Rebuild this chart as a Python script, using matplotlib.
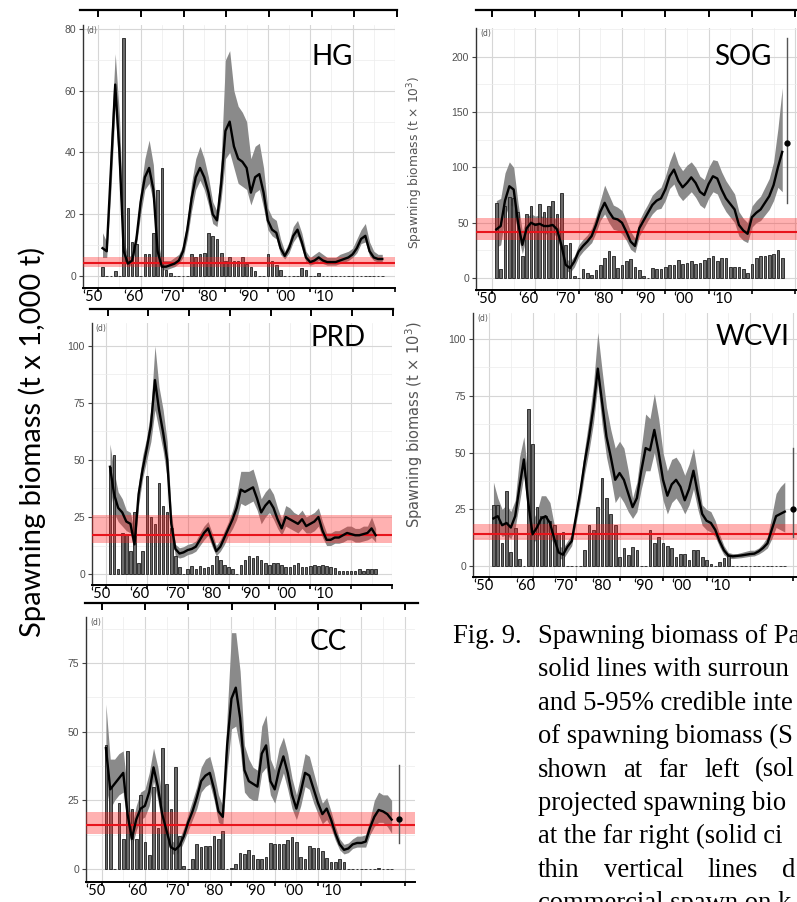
import numpy as np
import matplotlib
matplotlib.use("Agg")
import matplotlib.pyplot as plt

W, H = 797, 902

# spawning biomass (t x 1,000), 5-95% band and catch bars
hg_years = np.arange(1951, 2018)
hg_med = [9, 8, 35, 62, 40, 8, 4, 5, 12, 24,
          32, 35, 28, 8, 3, 3, 3.5, 4, 5, 8,
          15, 25, 32, 35, 32, 27, 20, 18, 30, 47,
          50, 42, 38, 37, 35, 27, 32, 33, 27, 18,
          15, 14, 9, 6.5, 9, 13, 15, 11, 6, 4.5,
          5, 6, 5, 4.5, 4.5, 4.5, 5, 5.5, 6, 7,
          9, 12, 13, 8, 6, 5.5, 5.5]
hg_hi = [14, 11, 45, 72, 52, 12, 6, 7, 15, 28,
         38, 44, 36, 12, 5, 5, 5, 6, 7, 10,
         18, 30, 38, 42, 38, 32, 24, 21, 38, 70,
         73, 60, 55, 53, 50, 38, 42, 43, 35, 22,
         19, 18, 12, 8, 11, 16, 18, 14, 8, 6,
         7, 8, 7, 6, 6, 6, 7, 7.5, 8, 9,
         12, 15, 17, 11, 8, 7, 7]
hg_lo = [6, 6, 28, 55, 30, 5, 3, 4, 10, 20,
         28, 30, 24, 6, 2, 2, 2.5, 3, 4, 6,
         12, 21, 28, 31, 28, 23, 17, 16, 25, 38,
         40, 35, 30, 29, 28, 23, 27, 28, 22, 15,
         13, 12, 7, 5.5, 7.5, 11, 13, 9, 4.5, 3.5,
         4, 5, 4, 3.5, 3.5, 3.5, 4, 4.5, 5, 6,
         7.5, 10.5, 11, 6.5, 5, 4.5, 4.5]
hg_catch = [3, 0, 0, 1.5, 0, 77, 22, 11, 10.5, 0,
            7, 7, 14, 28, 35, 2, 1, 0, 0, 0,
            0, 7, 6, 7, 7.5, 14, 13, 12, 7.5, 5,
            6, 5, 5, 6, 4, 3, 1.5, 0, 0, 7,
            5, 3.5, 2, 0, 0, 0, 0, 2.5, 2, 0,
            0, 1, 0, 0, 0, 0, 0, 0, 0, 0,
            0, 0, 0, 0, 0, 0, 0]

sog_years = np.arange(1951, 2018)
sog_med = [44, 47, 70, 83, 80, 50, 30, 45, 50, 48,
           49, 47, 47, 48, 44, 30, 12, 9, 15, 24,
           29, 33, 38, 48, 60, 68, 60, 54, 53, 50,
           42, 33, 29, 45, 52, 59, 66, 70, 72, 80,
           92, 98, 88, 82, 86, 91, 86, 78, 75, 85,
           92, 90, 80, 72, 67, 62, 48, 43, 40, 55,
           59, 62, 68, 74, 84, 100, 114]
sog_hi = [70, 72, 95, 105, 100, 68, 42, 55, 58, 56,
          57, 55, 55, 56, 52, 38, 18, 15, 20, 30,
          35, 39, 45, 56, 70, 84, 75, 66, 64, 61,
          52, 42, 36, 52, 60, 67, 75, 79, 82, 92,
          105, 115, 103, 97, 102, 105, 100, 92, 89, 100,
          107, 106, 96, 88, 82, 76, 60, 54, 50, 65,
          70, 74, 82, 90, 105, 135, 172]
sog_lo = [28, 30, 55, 67, 64, 38, 22, 38, 43, 41,
          42, 40, 40, 41, 37, 23, 7, 5, 10, 19,
          24, 28, 32, 41, 52, 58, 50, 44, 43, 40,
          34, 26, 23, 38, 45, 52, 58, 62, 63, 70,
          81, 85, 75, 70, 74, 78, 73, 66, 63, 72,
          78, 76, 67, 60, 55, 50, 38, 34, 32, 46,
          50, 52, 57, 62, 70, 82, 78]
sog_catch = [68, 8, 65, 73, 72, 60, 20, 58, 65, 50,
             67, 60, 65, 70, 58, 77, 30, 32, 2, 0,
             8, 5, 3, 7, 12, 18, 24, 20, 9, 12,
             15, 17, 10, 7, 2, 0, 9, 8, 8, 10,
             12, 12, 16, 13, 14, 15, 13, 14, 16, 18,
             20, 15, 18, 18, 10, 10, 10, 8, 5, 13,
             18, 20, 20, 21, 22, 25, 18]

prd_years = np.arange(1951, 2017)
prd_med = [47, 35, 29, 27, 23, 22, 13, 35, 46, 55,
           65, 85, 72, 62, 50, 22, 11, 9, 9.5, 10.5,
           11, 12, 15, 18, 20, 15, 10, 12, 16, 20,
           24, 29, 37, 36, 37, 38, 33, 27, 30, 32,
           29, 24, 20, 25, 24, 23, 22, 24, 21, 22,
           23, 25, 19, 15, 15, 16, 16, 17, 18, 17.5,
           17, 17, 17.5, 18, 20, 17]
prd_hi = [57, 45, 36, 33, 28, 27, 18, 40, 52, 60,
          72, 100, 82, 72, 58, 27, 13, 11.5, 12, 13,
          13.5, 14.5, 18, 21, 23, 18, 12.5, 15, 19, 23,
          28, 35, 45, 45, 45, 46, 40, 33, 36, 38,
          35, 29, 24, 30, 29, 27, 26, 28, 25, 26,
          27, 29, 23, 18, 18, 19, 19, 20, 21, 21,
          20, 20, 21, 21, 25, 20]
prd_lo = [38, 27, 23, 21, 19, 18, 9, 30, 42, 50,
          58, 72, 63, 54, 42, 18, 8, 7, 7.5, 8.5,
          9, 10, 12.5, 15, 17, 12, 8, 10, 13, 17,
          20, 24, 31, 30, 31, 32, 28, 22, 25, 27,
          24, 20, 17, 21, 20, 19, 18, 20, 18, 18,
          19, 21, 16, 12.5, 12.5, 13.5, 13.5, 14, 15, 15,
          14, 14, 14.5, 15, 16, 14]
prd_catch = [47, 52, 2, 18, 17, 10, 27, 5, 10, 43,
             25, 22, 40, 30, 27, 20, 8, 3, 0, 2,
             3.5, 2, 3.5, 2.5, 3, 4, 8, 6, 4, 3,
             2, 0, 4, 6, 8, 7, 8, 6, 5, 4,
             5, 5, 4, 3, 3, 4, 5, 3, 3, 3.5,
             4, 3.5, 4, 3.5, 3, 2.5, 1.5, 1.5, 1.5, 1.5,
             1.5, 2, 1.5, 2, 2, 2]

wcvi_years = np.arange(1951, 2019)
wcvi_med = [21, 22, 18, 19, 17, 22, 35, 47, 28, 14,
            17, 21, 22, 19, 12, 6, 5, 8.5, 11, 22,
            33, 46, 57, 70, 87, 72, 57, 48, 38, 41,
            38, 32, 26, 30, 42, 52, 51, 60, 50, 38,
            31, 36, 38, 35, 29, 34, 42, 32, 23, 20,
            19, 16, 11, 7, 4.7, 4.3, 4.5, 4.7, 5, 5.3,
            5.5, 6.5, 8, 10, 16, 22, 23, 24]
wcvi_hi = [37, 30, 25, 27, 24, 29, 48, 57, 38, 20,
           24, 31, 31, 28, 18, 9, 8, 11, 14, 25,
           37, 52, 65, 80, 103, 86, 70, 60, 52, 55,
           52, 42, 30, 37, 52, 67, 65, 76, 65, 50,
           42, 47, 48, 45, 40, 45, 52, 40, 27, 25,
           24, 20, 14, 9, 6, 5.5, 5.5, 6, 6.5, 7,
           7, 8, 10, 13, 22, 32, 35, 37]
wcvi_lo = [12, 16, 13, 14, 12, 17, 28, 40, 22, 10,
           12, 15, 16, 14, 8, 3.5, 3, 6, 9, 19,
           29, 41, 51, 63, 80, 62, 48, 39, 28, 31,
           28, 24, 21, 24, 34, 42, 42, 50, 40, 29,
           23, 28, 30, 27, 23, 27, 34, 25, 18, 16,
           15, 13, 8.5, 5, 3.5, 3.3, 3.5, 3.7, 4, 4.3,
           4.5, 5.3, 6.5, 8, 12, 17, 16, 15]
wcvi_catch = [27, 27, 10, 33, 6, 17, 3, 0, 69, 54,
              26, 22, 22, 20, 18, 14, 15, 0, 0, 0,
              0, 7, 18, 16, 26, 39, 30, 23, 18, 4,
              8, 5, 8.5, 7, 0, 0, 16, 10, 13, 10,
              9, 8, 4, 5.5, 5.5, 2.5, 7, 7, 4, 2.5,
              1, 0, 2, 3.5, 4.5, 0, 0, 0, 0, 0,
              0, 0, 0, 0, 0, 0, 0, 0]

cc_years = np.arange(1951, 2018)
cc_med = [44, 29, 31, 33, 35, 20, 11, 18, 22, 23,
          28, 37, 30, 20, 14, 8, 7, 8.5, 12, 17,
          21, 26, 32, 34, 35, 29, 21, 19, 45, 62,
          66, 55, 36, 32, 31, 30, 42, 45, 32, 29,
          36, 41, 35, 27, 22, 28, 35, 34, 29, 24,
          20, 22, 18, 13, 9, 7, 7.5, 9, 9.5, 9.5,
          10, 15, 19, 21.5, 21, 20, 18]
cc_hi = [60, 40, 40, 42, 43, 28, 16, 23, 28, 29,
         35, 44, 37, 26, 18, 10.5, 9.5, 11, 15, 20,
         25, 30, 37, 40, 41, 35, 27, 23, 56, 86,
         86, 72, 45, 40, 37, 36, 52, 56, 40, 36,
         44, 48, 42, 33, 27, 34, 42, 41, 35, 29,
         24, 26, 21, 15.5, 11, 9, 9.5, 11, 12, 12,
         12.5, 18, 25, 28, 27, 27, 25]
cc_lo = [30, 22, 25, 27, 28, 15, 8, 14, 18, 19,
         23, 32, 25, 16, 11, 6, 5, 6.5, 10, 14,
         18, 22, 28, 30, 31, 25, 17, 16, 36, 51,
         52, 44, 28, 26, 25, 25, 35, 37, 27, 24,
         30, 35, 29, 22, 18, 23, 30, 29, 24, 20,
         16.5, 18, 15, 10.5, 7, 5.5, 6, 7.5, 8, 8,
         8, 12.5, 15.5, 17, 17, 15.5, 13]
cc_catch = [45, 30, 0, 24, 11, 43, 22, 11, 27, 10,
            5, 30, 15, 44, 31, 22, 37, 12, 1, 0,
            3.5, 9, 8, 8.5, 8.5, 12, 11, 14, 0, 0.5,
            2, 6, 5.5, 7, 5, 3.5, 3.5, 4.5, 9.5, 9,
            9, 9, 10.5, 11.5, 10, 4.5, 3.5, 8.5, 7.5, 7.5,
            6.5, 4, 2.5, 2.5, 3.5, 2.5, 0, 0, 0, 0,
            0, 0, 0, 0.5, 0, 0, 0]

# reference level (line, band low, band high)
hg_ref = [4.3, 2.8, 6.0]
sog_ref = [41.8, 34, 54.5]
prd_ref = [17.3, 13.4, 25.7]
wcvi_ref = [14.3, 11.4, 18.5]
cc_ref = [16, 12.7, 20.6]

# projected biomass (year, median, low, high)
sog_proj = [2018.1, 122, 68, 217]
wcvi_proj = [2019.8, 25, 13, 52]
cc_proj = [2018.7, 18.2, 9.5, 38]

decade_labels = ["\u201850", "\u201860", "\u201870", "\u201880", "\u201890", "\u201800", "\u201810"]
decade_label_pos = [1948.6, 1958.3, 1967.0, 1975.8, 1985.4, 1994.2, 2003.1]

fig = plt.figure(figsize=(W / 100, H / 100), dpi=100)
fig.patch.set_facecolor("white")


def px_box(left, top, right, bottom):
    return [left / W, 1 - bottom / H, (right - left) / W, (bottom - top) / H]


def top_strip(left, right, y, xlim):
    # cropped axis line of the panel above, left over in the collage
    ax = fig.add_axes(px_box(left, y - 1, right, y))
    ax.set_xlim(xlim)
    ax.set_yticks([])
    for s in ["top", "left", "right"]:
        ax.spines[s].set_visible(False)
    ax.spines["bottom"].set_linewidth(1.6)
    ax.set_xticks(np.arange(1950, 2030, 10))
    ax.tick_params(axis="x", length=5, width=1.4, labelbottom=False)
    ax.patch.set_alpha(0)


def panel(box, xlim, ylim, ystep, years, med, lo, hi, catch, ref, name, name_xy, proj=None):
    ax = fig.add_axes(px_box(*box))
    ax.set_xlim(xlim)
    ax.set_ylim(ylim)
    ax.set_xticks(np.arange(1950, 2030, 10))
    ax.set_xticks(np.arange(1955, 2025, 10), minor=True)
    ax.set_yticks(np.arange(0, ylim[1], ystep))
    ax.set_yticks(np.arange(ystep / 2, ylim[1], ystep), minor=True)
    ax.grid(which="major", color="#d6d6d6", lw=0.8)
    ax.grid(which="minor", color="#ececec", lw=0.5)
    ax.set_axisbelow(True)
    for s in ["top", "right"]:
        ax.spines[s].set_visible(False)
    ax.spines["left"].set_color("#333333")
    ax.spines["bottom"].set_color("black")
    ax.spines["left"].set_linewidth(1.0)
    ax.spines["bottom"].set_linewidth(1.4)
    ax.tick_params(axis="y", which="major", length=3, color="#444444", labelsize=7.5,
                   labelcolor="#505050", pad=2)
    ax.tick_params(axis="x", which="major", length=3, width=1.2, labelbottom=False)
    ax.tick_params(which="minor", length=0)
    for t in ax.get_yticklabels():
        t.set_family("Liberation Sans")

    ax.fill_between(years, lo, hi, color="#8a8a8a", lw=0, zorder=2)
    ax.bar(years, catch, width=0.62, color="#6b6b6b", edgecolor="#1e1e1e", lw=0.6, zorder=3)
    ax.axhspan(ref[1], ref[2], color="#ff2020", alpha=0.35, lw=0, zorder=4)
    ax.axhline(ref[0], color="#e8141c", lw=1.5, zorder=5)
    ax.plot(years, med, color="black", lw=1.7, zorder=6)
    if proj is not None:
        ax.plot([proj[0], proj[0]], [proj[2], proj[3]], color="#555555", lw=1.0, zorder=6)
        ax.plot(proj[0], proj[1], "o", color="black", ms=3.5, zorder=7)

    ax.text(0.012, 0.995, "(d)", transform=ax.transAxes, fontsize=5.5, color="#555555",
            va="top", ha="left")
    for lab, pos in zip(decade_labels, decade_label_pos):
        ax.annotate(lab, xy=(pos, 0), xycoords=("data", "axes fraction"),
                    xytext=(0, -1.5), textcoords="offset points", ha="center", va="top",
                    fontsize=10.5, family="Lato", annotation_clip=False)
    fig.text(name_xy[0] / W, 1 - name_xy[1] / H, name, fontsize=20, family="Lato",
             ha="center", va="center")
    return ax


# HG
top_strip(80, 397, 10, (1945.7, 2017.7))
panel((83, 25, 395, 288), (1946.4, 2017.3), (-3.9, 81.3), 20,
      hg_years, hg_med, hg_lo, hg_hi, hg_catch, hg_ref, "HG", (332, 57))
# SOG
top_strip(476, 800, 10, (1946.3, 2021.1))
panel((476, 28, 800, 290), (1946.3, 2021.1), (-10.8, 226), 50,
      sog_years, sog_med, sog_lo, sog_hi, sog_catch, sog_ref, "SOG", (743, 57), sog_proj)
# PRD
top_strip(90, 393, 309, (1945.7, 2016.2))
panel((92, 323, 392, 585), (1946.6, 2016.3), (-4.8, 110), 25,
      prd_years, prd_med, prd_lo, prd_hi, prd_catch, prd_ref, "PRD", (338, 338))
# WCVI
panel((473, 313, 800, 577), (1946.3, 2021.5), (-4.8, 111.5), 25,
      wcvi_years, wcvi_med, wcvi_lo, wcvi_hi, wcvi_catch, wcvi_ref, "WCVI", (752, 337), wcvi_proj)
# CC
top_strip(85, 418, 603, (1946.1, 2023.1))
panel((86, 617, 415, 882), (1946.4, 2022.4), (-4.7, 91.7), 25,
      cc_years, cc_med, cc_lo, cc_hi, cc_catch, cc_ref, "CC", (328, 642), cc_proj)

# small y titles of the right-hand panels
fig.text(415 / W, 1 - 162 / H, "Spawning biomass (t \u00d7 10$^3$)", rotation=90,
         fontsize=8.8, color="#555555", ha="center", va="center")
fig.text(414 / W, 1 - 425 / H, "Spawning biomass (t \u00d7 10$^3$)", rotation=90,
         fontsize=10.5, color="#555555", ha="center", va="center")

# shared y label
fig.text(32 / W, 1 - 442 / H, "Spawning biomass (t x 1,000 t)", rotation=90,
         fontsize=21, family="Lato", ha="center", va="center")

# caption, as much of it as the page crop shows
cap_kw = dict(fontsize=19.2, family="Liberation Serif", ha="left", va="baseline")
caption = ["Spawning biomass of Pa",
           "solid lines with surroun",
           "and 5-95% credible inte",
           "of spawning biomass (S",
           "shown at far left (sol",
           "projected spawning bio",
           "at the far right (solid ci",
           "thin vertical lines d",
           "commercial spawn on k"]
justified = [4, 7]
fig.text(453 / W, 1 - 643 / H, "Fig. 9.", **cap_kw)
renderer = fig.canvas.get_renderer()
for i, line in enumerate(caption):
    y = 1 - (643 + 33.4 * i) / H
    if i in justified:
        words = line.split()
        texts = [fig.text(0, y, w, **cap_kw) for w in words]
        widths = [t.get_window_extent(renderer).width for t in texts]
        gap = (795 - 538 - sum(widths)) / (len(words) - 1)
        x = 538
        for t, w in zip(texts, widths):
            t.set_x(x / W)
            x += w + gap
    else:
        fig.text(538 / W, y, line, **cap_kw)

fig.savefig("out.png", dpi=100)
